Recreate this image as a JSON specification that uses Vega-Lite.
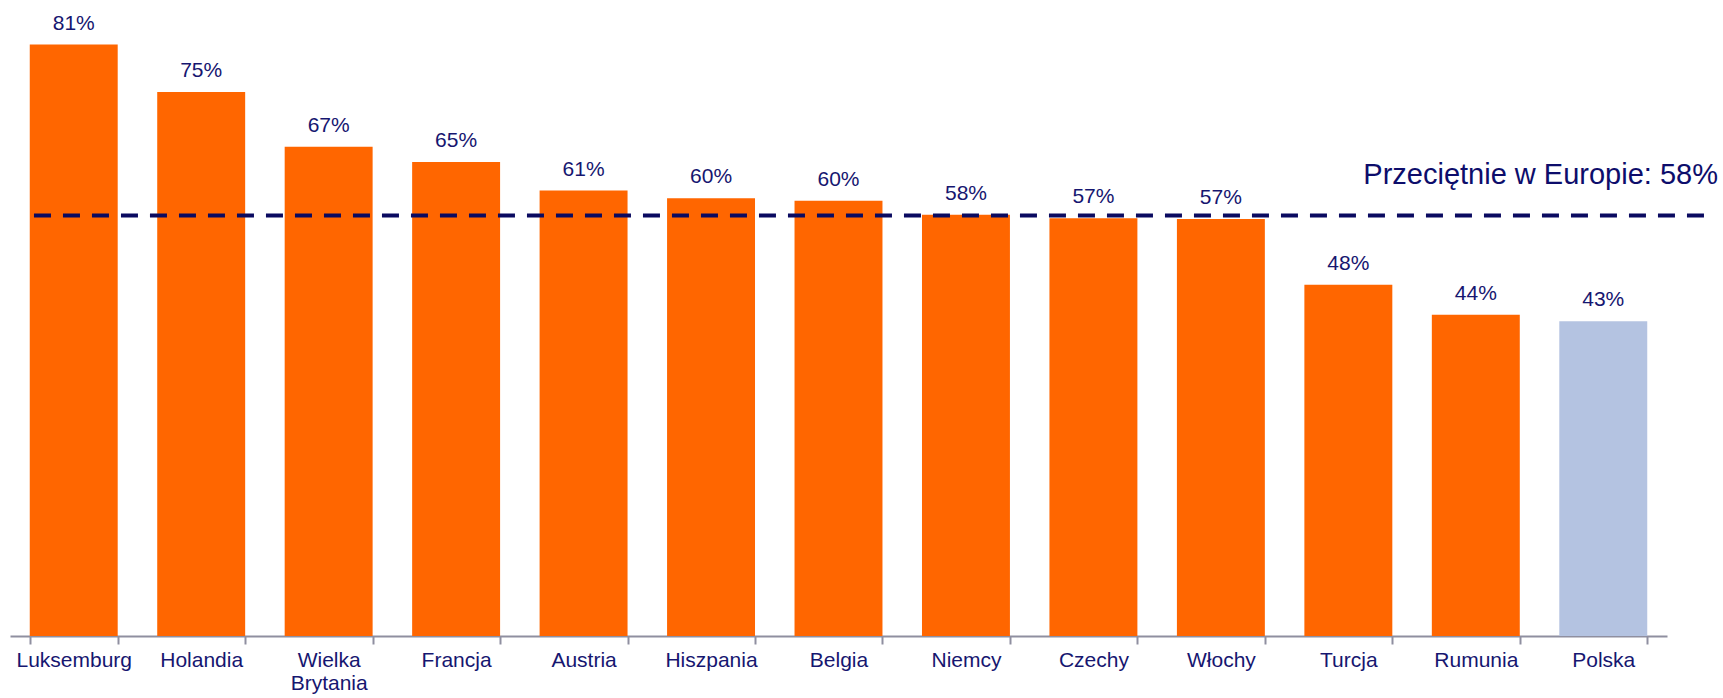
{
  "$schema": "https://vega.github.io/schema/vega-lite/v6.json",
  "width": 1657,
  "height": 636,
  "autosize": "none",
  "padding": {"left": 10, "top": 0, "right": 56, "bottom": 62},
  "background": "white",
  "config": {"view": {"stroke": null}, "font": "Liberation Sans"},
  "datasets": {
    "bars": [
      {"kraj": "Luksemburg", "wartosc": 81.0, "etykieta": "81%", "grupa": "inne"},
      {"kraj": "Holandia", "wartosc": 74.5, "etykieta": "75%", "grupa": "inne"},
      {"kraj": "Wielka Brytania", "wartosc": 67.0, "etykieta": "67%", "grupa": "inne"},
      {"kraj": "Francja", "wartosc": 64.9, "etykieta": "65%", "grupa": "inne"},
      {"kraj": "Austria", "wartosc": 61.0, "etykieta": "61%", "grupa": "inne"},
      {"kraj": "Hiszpania", "wartosc": 59.95, "etykieta": "60%", "grupa": "inne"},
      {"kraj": "Belgia", "wartosc": 59.6, "etykieta": "60%", "grupa": "inne"},
      {"kraj": "Niemcy", "wartosc": 57.7, "etykieta": "58%", "grupa": "inne"},
      {"kraj": "Czechy", "wartosc": 57.2, "etykieta": "57%", "grupa": "inne"},
      {"kraj": "Włochy", "wartosc": 57.1, "etykieta": "57%", "grupa": "inne"},
      {"kraj": "Turcja", "wartosc": 48.1, "etykieta": "48%", "grupa": "inne"},
      {"kraj": "Rumunia", "wartosc": 44.0, "etykieta": "44%", "grupa": "inne"},
      {"kraj": "Polska", "wartosc": 43.1, "etykieta": "43%", "grupa": "Polska"}
    ],
    "avg": [
      {"start": 0.188, "end": 13.34, "labelpos": 13.40, "wartosc": 57.6, "etykieta": "Przeciętnie w Europie: 58%"}
    ]
  },
  "layer": [
    {
      "data": {"name": "bars"},
      "encoding": {
        "x": {
          "field": "kraj", "type": "nominal", "sort": null,
          "scale": {"paddingInner": 0.31, "paddingOuter": 0.155},
          "axis": {
            "title": null, "labelAngle": 0, "tickBand": "extent",
            "domainColor": "#8f8fa0", "domainWidth": 2, "tickColor": "#8f8fa0", "tickWidth": 2, "tickSize": 8,
            "labelFont": "Liberation Sans", "labelFontSize": 21, "labelColor": "#161670", "labelPadding": 5,
            "labelLineHeight": 23, "labelBaseline": "top",
            "labelExpr": "datum.value == 'Wielka Brytania' ? ['Wielka', 'Brytania'] : datum.label"
          }
        },
        "y": {
          "field": "wartosc", "type": "quantitative",
          "scale": {"domain": [0, 87.1], "nice": false, "zero": true},
          "axis": null
        }
      },
      "layer": [
        {
          "mark": {"type": "bar"},
          "encoding": {
            "color": {
              "field": "grupa", "type": "nominal",
              "scale": {"domain": ["inne", "Polska"], "range": ["#ff6600", "#b4c3e1"]},
              "legend": null
            }
          }
        },
        {
          "mark": {"type": "text", "baseline": "alphabetic", "align": "center", "dy": -15, "fontSize": 21, "font": "Liberation Sans", "color": "#161670"},
          "encoding": {
            "text": {"field": "etykieta"}
          }
        }
      ]
    },
    {
      "data": {"name": "avg"},
      "encoding": {
        "y": {"field": "wartosc", "type": "quantitative", "scale": {"domain": [0, 87.1], "nice": false, "zero": true}, "axis": null}
      },
      "layer": [
        {
          "mark": {"type": "rule", "color": "#0a0a60", "strokeWidth": 4, "strokeDash": [17, 12]},
          "encoding": {
            "x": {"field": "start", "type": "quantitative", "scale": {"domain": [0, 13], "nice": false, "zero": true}, "axis": null},
            "x2": {"field": "end"}
          }
        },
        {
          "mark": {"type": "text", "align": "right", "baseline": "alphabetic", "dy": -31, "fontSize": 29, "font": "Liberation Sans", "color": "#0d0d6b"},
          "encoding": {
            "x": {"field": "labelpos", "type": "quantitative", "scale": {"domain": [0, 13], "nice": false, "zero": true}, "axis": null},
            "text": {"field": "etykieta"}
          }
        }
      ]
    }
  ],
  "resolve": {"scale": {"x": "independent"}}
}
